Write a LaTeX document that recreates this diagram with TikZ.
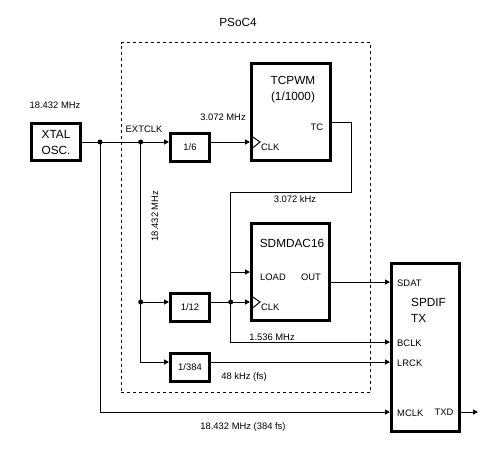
\documentclass[tikz,border=0pt]{standalone}
\usepackage{fontspec}
\setmainfont{Liberation Sans}
\usetikzlibrary{arrows.meta,calc}
\begin{document}
\begin{tikzpicture}[x=1pt,y=-1pt,
  lbl/.style={font=\fontsize{9.4}{11}\selectfont, inner sep=0pt},
  big/.style={font=\fontsize{11.8}{16}\selectfont, inner sep=0pt, align=center},
  blk/.style={draw, line width=3pt, inner sep=0pt, font=\fontsize{9.4}{11}\selectfont},
  wire/.style={line width=1pt},
  arr/.style={wire, -{Triangle[length=5pt,width=5pt]}},
  jdot/.style={circle, fill, inner sep=0pt, minimum size=5pt},
  frame/.style={draw, line width=1pt, dash pattern=on 3pt off 3pt},
]
\useasboundingbox (0,0) rectangle (500,451);
% frame
\node[frame, minimum width=249.5pt, minimum height=349.5pt, inner sep=0pt] (psoc) at (245.75,217.25) {};
\node[big] (psoclbl) at (238,22) {PSoC4};
% blocks
\node[blk, minimum width=49pt, minimum height=37pt, font=\fontsize{11.8}{16}\selectfont, align=center] (xtal) at (56,142) {XTAL\\OSC.};
\node[blk, minimum width=39pt, minimum height=28pt] (div6) at (190,147.5) {1/6};
\node[blk, minimum width=79pt, minimum height=97pt] (tcpwm) at (291,112) {};
\node[blk, minimum width=78pt, minimum height=97pt] (sdm) at (290.5,272) {};
\node[blk, minimum width=39pt, minimum height=28pt] (div12) at (190,307.5) {1/12};
\node[blk, minimum width=39pt, minimum height=28pt] (div384) at (190,367.5) {1/384};
\node[blk, minimum width=68pt, minimum height=168pt] (spdif) at (425.5,347.5) {};
% block texts
\node[big] (tcpwmlbl) at (293,90) {TCPWM\\(1/1000)};
\node[lbl] (tclbl) at (317,127) {TC};
\node[lbl, anchor=west] (clk1lbl) at (261,147) {CLK};
\node[big] (sdmlbl) at (292,243) {SDMDAC16};
\node[lbl] (loadlbl) at (273,277) {LOAD};
\node[lbl] (outlbl) at (311,277) {OUT};
\node[lbl, anchor=west] (clk2lbl) at (261,307) {CLK};
\node[big, anchor=west, align=left] (spdiflbl) at (411,310) {SPDIF\\TX};
\node[lbl, anchor=west] (sdatlbl) at (397,283) {SDAT};
\node[lbl, anchor=west] (bclklbl) at (397,343) {BCLK};
\node[lbl, anchor=west] (lrcklbl) at (397,363) {LRCK};
\node[lbl, anchor=west] (mclklbl) at (397,413) {MCLK};
\node[lbl] (txdlbl) at (444,412) {TXD};
% free labels
\node[lbl] (f1) at (55,105) {18.432 MHz};
\node[lbl] (f2) at (144,129) {EXTCLK};
\node[lbl] (f3) at (223,117) {3.072 MHz};
\node[lbl] (f4) at (295,199) {3.072 kHz};
\node[lbl, rotate=90] (f5) at (155,216) {18.432 MHz};
\node[lbl] (f6) at (272,337) {1.536 MHz};
\node[lbl] (f7) at (244,377) {48 kHz (fs)};
\node[lbl] (f8) at (243,427) {18.432 MHz (384 fs)};
% coordinates
\coordinate (d1) at (100,142);
\coordinate (d2) at (140.7,142);
\coordinate (d3) at (140.7,302);
\coordinate (d4) at (230.7,302);
\coordinate (yTC) at (0,122);
\coordinate (yTCa) at (351,192);
\coordinate (yLR) at (0,362);
\coordinate (yBC) at (0,342);
\coordinate (ySD) at (0,282);
\coordinate (yMC) at (0,412);
\coordinate (txdend) at (478,412);
% wires
\draw[arr] (xtal.east) -- (xtal.east -| div6.west);
\draw[arr] (div6.east |- d2) -- (tcpwm.west |- d2);
\draw[arr] (tcpwm.east |- yTC) -| (yTCa) -| (d4) |- (sdm.west);
\draw[arr] (d2) |- (div384.west |- yLR);
\draw[arr] (d3) -- (div12.west |- d3);
\draw[arr] (div12.east |- d3) -- (sdm.west |- d3);
\draw[arr] (d4) |- (spdif.west |- yBC);
\draw[arr] (div384.east |- yLR) -- (spdif.west |- yLR);
\draw[arr] (sdm.east |- ySD) -- (spdif.west |- ySD);
\draw[arr] (d1) |- (spdif.west |- yMC);
\draw[arr] (spdif.east |- yMC) -- (txdend);
% dots
\foreach \p in {d1,d2,d3,d4} \node[jdot] at (\p) {};
% clock triangles
\draw[wire] (250,135) -- (260,142) -- (250,150);
\draw[wire] (250,295) -- (260,302) -- (250,310);
\end{tikzpicture}
\end{document}
